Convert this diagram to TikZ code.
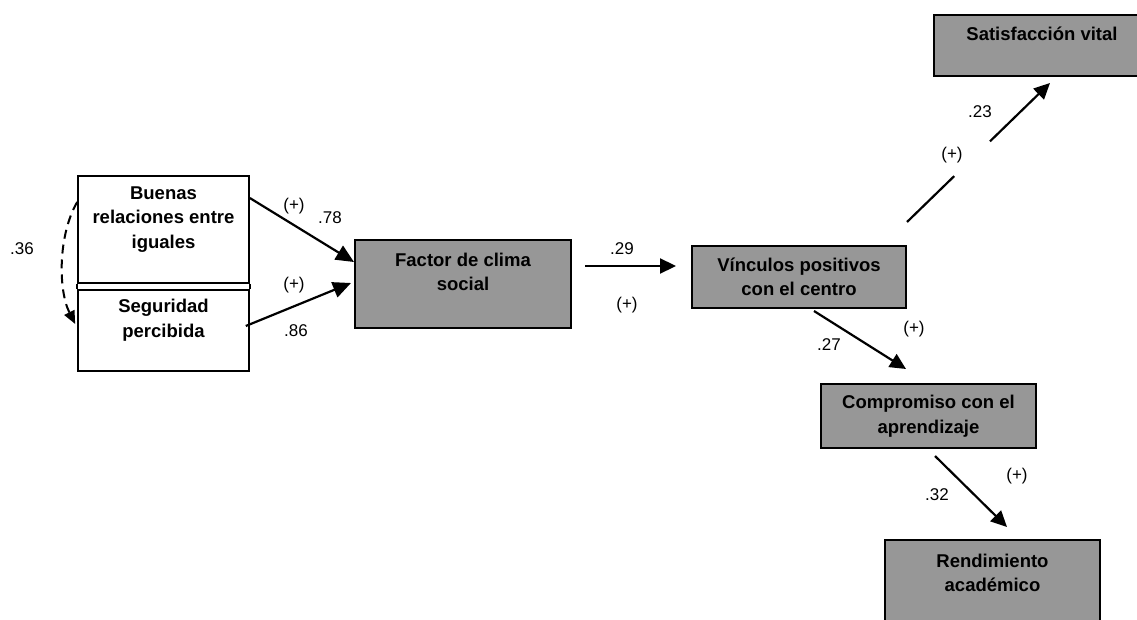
\documentclass[tikz,border=0pt]{standalone}
\usepackage{fontspec}
\setmainfont{Liberation Sans}
\usetikzlibrary{arrows.meta, positioning, calc}
\definecolor{boxgray}{HTML}{979797}

\begin{document}
\begin{tikzpicture}[x=1pt, y=-1pt,
    box/.style={draw, line width=2pt, fill=boxgray, inner sep=0pt, align=center,
        font=\fontsize{18.5}{24.5}\selectfont\bfseries},
    wbox/.style={box, fill=white, line width=1.6pt},
    link/.style={line width=2.2pt, -{Triangle[length=18pt,width=16pt]}},
    coef/.style={font=\fontsize{17}{20}\selectfont, inner sep=0pt}]
    \useasboundingbox (0,0) rectangle (1137,620);

    % Predictors (left)
    \node[wbox, minimum width=171, minimum height=107] (buenas) at (163.5,229.5)
        {Buenas\\relaciones entre\\iguales\\\mbox{}};
    \node[wbox, minimum width=171, minimum height=81] (seg) at (163.5,330.5)
        {Seguridad\\percibida\\\mbox{}};
    \draw[line width=1.6pt] (buenas.south west) -- (seg.north west);
    \draw[line width=1.6pt] (buenas.south east) -- (seg.north east);

    % Mediators and outcomes
    \node[box, minimum width=216, minimum height=88] (fac) at (463,284)
        {Factor de clima\\social\\\mbox{}};
    \node[box, minimum width=214, minimum height=62] (vin) at (799,277)
        {Vínculos positivos\\con el centro};
    \node[box, minimum width=216, minimum height=61] (sat) at (1042,45.5)
        {Satisfacción vital\\\mbox{}};
    \node[box, minimum width=215, minimum height=64] (com) at (928.5,416)
        {Compromiso con el\\aprendizaje};
    \node[box, minimum width=215, minimum height=90] (ren) at (992.5,585)
        {Rendimiento\\académico\\\mbox{}};

    % Correlation
    \draw[line width=2pt, dash pattern=on 9pt off 6pt, -{Triangle[length=13pt,width=11pt]}]
        ([yshift=27.5pt]buenas.west) .. controls (58,235) and (58,290) .. ([xshift=-2pt,yshift=6.5pt]seg.west);
    \node[coef] (r36) at (22,249) {.36};

    % Paths
    \draw[link] ([yshift=31.5pt]buenas.east) -- ([yshift=22pt]fac.west);
    \draw[link] ([xshift=-4pt,yshift=4.5pt]seg.east) -- ([xshift=-3pt,yshift=1pt]fac.west);
    \draw[link, -{Triangle[length=16pt,width=15pt]}] ([xshift=13pt,yshift=18pt]fac.east) -- ([xshift=-15pt,yshift=11pt]vin.west);
    \draw[link, -{Triangle[length=16pt,width=15pt]}] ([xshift=15pt,yshift=-2pt]vin.south) -- ([xshift=-22.5pt,yshift=14pt]com.north);
    \draw[link, -{Triangle[length=16pt,width=15pt]}] ([xshift=6.5pt,yshift=-7pt]com.south) -- ([xshift=14.5pt,yshift=12pt]ren.north);

    % Broken path up to Satisfaccion vital
    \coordinate (v1) at ([yshift=23pt]vin.north east);
    \coordinate (s1) at ([xshift=8pt,yshift=-6pt]sat.south);
    \draw[line width=2.2pt] (v1) -- ($(v1)!0.33!(s1)$);
    \draw[link, -{Triangle[length=16pt,width=15pt]}] ($(v1)!0.58!(s1)$) -- (s1);

    % Coefficients
    \node[coef] (p1) at (294,206) {(+)};
    \node[coef] (c1) at (330,218) {.78};
    \node[coef] (p2) at (294,285) {(+)};
    \node[coef] (c2) at (296,331) {.86};
    \node[coef] (c3) at (622,249) {.29};
    \node[coef] (p3) at (627,305) {(+)};
    \node[coef] (c4) at (829,345) {.27};
    \node[coef] (p4) at (914,329) {(+)};
    \node[coef] (c5) at (937,495) {.32};
    \node[coef] (p5) at (1017,476) {(+)};
    \node[coef] (c6) at (980,112) {.23};
    \node[coef] (p6) at (952,155) {(+)};
\end{tikzpicture}
\end{document}
